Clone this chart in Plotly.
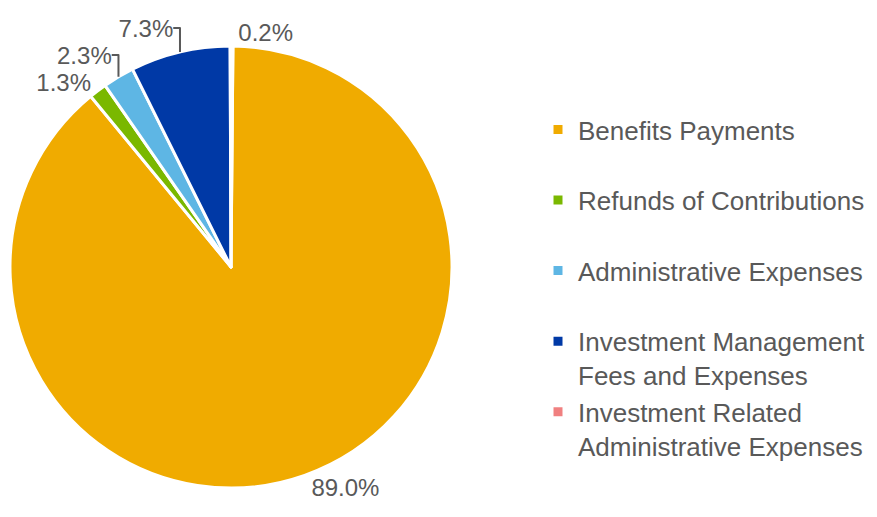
import plotly.graph_objects as go

categories = [
    "Benefits Payments",
    "Refunds of Contributions",
    "Administrative Expenses",
    "Investment Management<br>Fees and Expenses",
    "Investment Related<br>Administrative Expenses",
]
values = [89.0, 1.3, 2.3, 7.3, 0.2]
colors = ["#F0AB00", "#7AB800", "#5EB6E4", "#0039A6", "#F08080"]

# pad single-line labels to two lines so every legend slot has equal height
legend_labels = [c if "<br>" in c else c + "<br>\u00a0" for c in categories]

W, H = 877, 517
cx, cy, r = 223, 259, 221

fig = go.Figure(
    go.Pie(
        labels=legend_labels,
        values=values,
        sort=False,
        direction="clockwise",
        rotation=0.5,
        marker=dict(colors=colors, line=dict(color="white", width=3)),
        texttemplate="%{value:.1f}%",
        textposition="outside",
        outsidetextfont=dict(family="Liberation Sans, Arial", size=24, color="#595959"),
        hoverinfo="label+value",
        automargin=False,
        domain=dict(
            x=[(cx - r) / W, (cx + r) / W],
            y=[(H - cy - r) / H, (H - cy + r) / H],
        ),
    )
)

fig.update_layout(
    width=W,
    height=H,
    margin=dict(l=0, r=0, t=0, b=0, autoexpand=False),
    paper_bgcolor="white",
    plot_bgcolor="white",
    font=dict(family="Liberation Sans, Arial", color="#595959"),
    showlegend=True,
    legend=dict(
        x=530 / W,
        y=1 - 98 / H,
        xanchor="left",
        yanchor="top",
        valign="top",
        itemwidth=30,
        font=dict(family="Liberation Sans, Arial", size=26, color="#595959"),
        bgcolor="rgba(0,0,0,0)",
    ),
)

fig.write_html("out.html")
